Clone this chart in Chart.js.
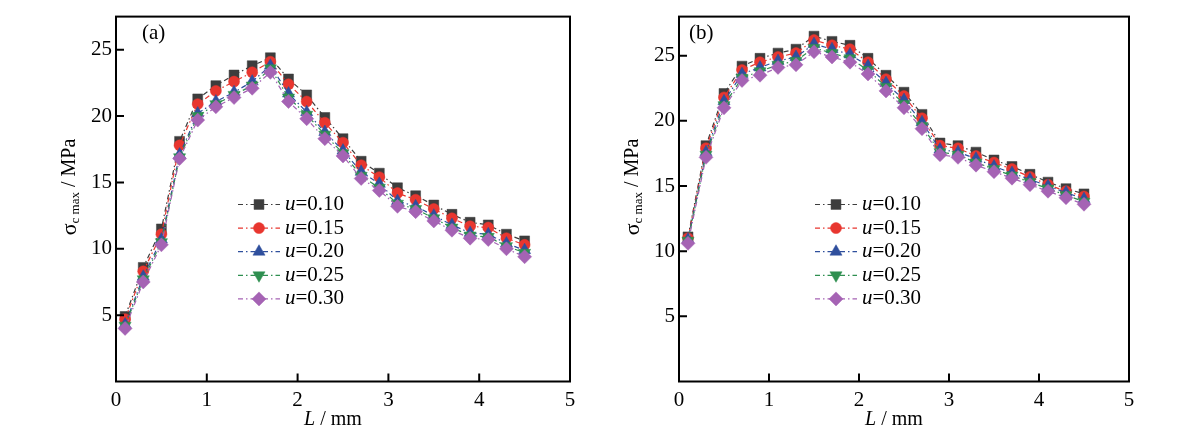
<!DOCTYPE html>
<html>
<head>
<meta charset="utf-8">
<script src="https://cdn.jsdelivr.net/npm/chart.js@4.4.0/dist/chart.umd.min.js"></script>
<style>
  html, body { margin: 0; padding: 0; background: #fff; }
  #wrap { position: relative; width: 1200px; height: 434px; }
  canvas { position: absolute; top: 0; }
</style>
</head>
<body>
<div id="wrap">
  <canvas id="chartA" width="600" height="434" style="left:0"></canvas>
  <canvas id="chartB" width="600" height="434" style="left:600px"></canvas>
</div>
<script>
// L / mm
var L = [0.1, 0.3, 0.5, 0.7, 0.9, 1.1, 1.3, 1.5, 1.7, 1.9, 2.1, 2.3, 2.5, 2.7, 2.9, 3.1, 3.3, 3.5, 3.7, 3.9, 4.1, 4.3, 4.5];

var uLabels = ['0.10', '0.15', '0.20', '0.25', '0.30'];

// panel (a)
var a010 = [4.9, 8.6, 11.5, 18.1, 21.3, 22.3, 23.1, 23.8, 24.4, 22.8, 21.6, 19.9, 18.3, 16.6, 15.7, 14.6, 14.0, 13.3, 12.6, 12.0, 11.8, 11.1, 10.6];
var a015 = [4.7, 8.3, 11.1, 17.8, 20.9, 21.9, 22.6, 23.3, 24.1, 22.4, 21.1, 19.5, 18.0, 16.3, 15.4, 14.2, 13.7, 13.0, 12.3, 11.7, 11.6, 10.8, 10.3];
var a020 = [4.3, 7.9, 10.7, 17.1, 20.2, 21.1, 21.8, 22.6, 23.8, 21.7, 20.3, 18.8, 17.4, 15.8, 14.9, 13.6, 13.2, 12.5, 11.8, 11.2, 11.1, 10.4, 9.9];
var a025 = [4.2, 7.7, 10.5, 16.9, 20.0, 20.9, 21.6, 22.3, 23.6, 21.4, 20.1, 18.6, 17.2, 15.5, 14.6, 13.4, 13.0, 12.3, 11.6, 11.0, 10.9, 10.2, 9.7];
var a030 = [4.0, 7.5, 10.3, 16.8, 19.7, 20.7, 21.4, 22.1, 23.3, 21.1, 19.8, 18.3, 17.0, 15.3, 14.4, 13.2, 12.8, 12.1, 11.4, 10.8, 10.7, 10.0, 9.4];

// panel (b)
var b010 = [11.1, 18.1, 22.1, 24.2, 24.8, 25.2, 25.5, 26.5, 26.1, 25.8, 24.8, 23.5, 22.2, 20.5, 18.3, 18.1, 17.6, 17.0, 16.5, 15.9, 15.3, 14.8, 14.4];
var b015 = [11.0, 17.9, 21.8, 23.9, 24.5, 24.9, 25.2, 26.2, 25.8, 25.5, 24.5, 23.2, 21.9, 20.2, 18.1, 17.9, 17.3, 16.8, 16.3, 15.7, 15.1, 14.6, 14.2];
var b020 = [10.9, 17.6, 21.5, 23.6, 24.1, 24.6, 24.9, 25.9, 25.5, 25.1, 24.2, 22.9, 21.6, 19.9, 17.8, 17.6, 17.1, 16.5, 16.0, 15.5, 15.0, 14.5, 14.0];
var b025 = [10.8, 17.4, 21.2, 23.3, 23.8, 24.3, 24.6, 25.6, 25.2, 24.8, 23.9, 22.6, 21.3, 19.6, 17.6, 17.4, 16.8, 16.3, 15.8, 15.3, 14.8, 14.3, 13.8];
var b030 = [10.6, 17.2, 21.0, 23.1, 23.5, 24.1, 24.3, 25.3, 24.9, 24.5, 23.6, 22.3, 21.0, 19.4, 17.4, 17.2, 16.6, 16.1, 15.6, 15.1, 14.6, 14.1, 13.6];

var xTicks = [0, 1, 2, 3, 4, 5];
var yTicks = [5, 10, 15, 20, 25];

var colors = ['#3d3d3d', '#e8362f', '#2f4f9d', '#2f8f50', '#a563b4'];
var styles = ['rect', 'circle', 'triangle', 'triangle', 'rectRot'];
var radii = [7, 5.5, 7, 7, 7];
var rots = [0, 0, 0, 180, 0];
var dash = [5, 3, 1.5, 3];
var SERIF = '"Liberation Serif", "Times New Roman", serif';

function makeSets(series) {
    return series.map(function (vals, i) {
        return {
            label: 'u=' + uLabels[i],
            data: L.map(function (x, k) { return { x: x, y: vals[k] }; }),
            borderColor: colors[i],
            backgroundColor: colors[i],
            borderWidth: 1.2,
            borderDash: dash,
            pointStyle: styles[i],
            pointRadius: radii[i],
            pointRotation: rots[i],
            pointBackgroundColor: colors[i],
            pointBorderColor: colors[i],
            pointBorderWidth: 0.5,
            order: 4 - i,
            tension: 0
        };
    });
}

// frame, inward ticks, titles, tag and legend
var decor = {
    id: 'decor',
    afterDraw: function (chart, args, o) {
        var ctx = chart.ctx, a = chart.chartArea;
        var xs = chart.scales.x, ys = chart.scales.y;
        ctx.save();
        ctx.strokeStyle = '#000';
        ctx.lineWidth = 2;
        ctx.setLineDash([]);
        ctx.strokeRect(a.left, a.top, a.right - a.left, a.bottom - a.top);
        ctx.beginPath();
        xTicks.forEach(function (v) {
            if (v <= xs.min || v >= xs.max) return;
            var px = xs.getPixelForValue(v);
            ctx.moveTo(px, a.bottom); ctx.lineTo(px, a.bottom - 8);
        });
        yTicks.forEach(function (v) {
            var py = ys.getPixelForValue(v);
            ctx.moveTo(a.left, py); ctx.lineTo(a.left + 8, py);
        });
        ctx.stroke();

        ctx.fillStyle = '#000';
        ctx.textBaseline = 'middle';
        ctx.textAlign = 'left';
        ctx.font = '21px ' + SERIF;
        ctx.fillText(o.tag, o.tagX, 33);

        // x title
        ctx.font = 'italic 20px ' + SERIF;
        var w1 = ctx.measureText('L').width;
        ctx.font = '20px ' + SERIF;
        var w2 = ctx.measureText(' / mm').width;
        var x0 = o.xTitleX - (w1 + w2) / 2;
        ctx.font = 'italic 20px ' + SERIF;
        ctx.fillText('L', x0, 420);
        ctx.font = '20px ' + SERIF;
        ctx.fillText(' / mm', x0 + w1, 420);

        // y title
        ctx.save();
        ctx.translate(o.yTitleX, 187);
        ctx.rotate(-Math.PI / 2);
        ctx.font = '22px ' + SERIF;
        var s1 = ctx.measureText('σ').width;
        ctx.font = '13px ' + SERIF;
        var s2 = ctx.measureText('c max').width;
        ctx.font = '20px ' + SERIF;
        var s3 = ctx.measureText(' / MPa').width;
        var t0 = -(s1 + s2 + s3) / 2;
        ctx.font = '22px ' + SERIF;
        ctx.fillText('σ', t0, 0);
        ctx.font = '13px ' + SERIF;
        ctx.fillText('c max', t0 + s1, 6);
        ctx.font = '20px ' + SERIF;
        ctx.fillText(' / MPa', t0 + s1 + s2, 0);
        ctx.restore();

        // legend
        chart.data.datasets.forEach(function (ds, i) {
            var y = 204.5 + i * 23.6;
            var lx = o.legX;
            ctx.strokeStyle = ds.borderColor;
            ctx.lineWidth = 1.2;
            ctx.setLineDash(dash);
            ctx.beginPath();
            ctx.moveTo(lx, y); ctx.lineTo(lx + 42, y);
            ctx.stroke();
            ctx.setLineDash([]);
            ctx.fillStyle = ds.pointBackgroundColor;
            ctx.strokeStyle = ds.pointBorderColor;
            ctx.lineWidth = 0.5;
            Chart.helpers.drawPoint(ctx, { pointStyle: ds.pointStyle, radius: ds.pointRadius, rotation: ds.pointRotation, borderWidth: 0.5 }, lx + 21, y);
            ctx.fillStyle = '#000';
            ctx.font = 'italic 21px ' + SERIF;
            var uw = ctx.measureText('u').width;
            ctx.fillText('u', lx + 47, y);
            ctx.font = '21px ' + SERIF;
            ctx.fillText(ds.label.slice(1), lx + 47 + uw, y);
        });
        ctx.restore();
    }
};

function build(id, series, yMax, yWidth, padRight, o) {
    return new Chart(document.getElementById(id), {
        type: 'line',
        data: { datasets: makeSets(series) },
        options: {
            responsive: false,
            animation: false,
            devicePixelRatio: 1,
            layout: { padding: { top: 13, right: padRight, bottom: 0, left: 0 } },
            plugins: { legend: { display: false }, tooltip: { enabled: false }, decor: o },
            scales: {
                x: {
                    type: 'linear', min: 0, max: 5,
                    grid: { display: false, drawTicks: false, tickLength: 0 },
                    border: { display: false },
                    afterFit: function (s) { s.height = 52.5; },
                    afterBuildTicks: function (s) { s.ticks = xTicks.map(function (v) { return { value: v }; }); },
                    ticks: { color: '#000', padding: 6, font: { family: SERIF, size: 21 }, maxRotation: 0 }
                },
                y: {
                    type: 'linear', min: 0, max: yMax,
                    grid: { display: false, drawTicks: false, tickLength: 0 },
                    border: { display: false },
                    afterFit: function (s) { s.width = yWidth; },
                    afterBuildTicks: function (s) { s.ticks = yTicks.map(function (v) { return { value: v }; }); },
                    ticks: { color: '#000', padding: 4, font: { family: SERIF, size: 21 } }
                }
            }
        },
        plugins: [decor]
    });
}

build('chartA', [a010, a015, a020, a025, a030], 27.5, 116, 30,
    { tag: '(a)', tagX: 142, xTitleX: 333, yTitleX: 70, legX: 238 });
build('chartB', [b010, b015, b020, b025, b030], 28, 79, 71,
    { tag: '(b)', tagX: 89, xTitleX: 294, yTitleX: 33, legX: 215 });
</script>
</body>
</html>
